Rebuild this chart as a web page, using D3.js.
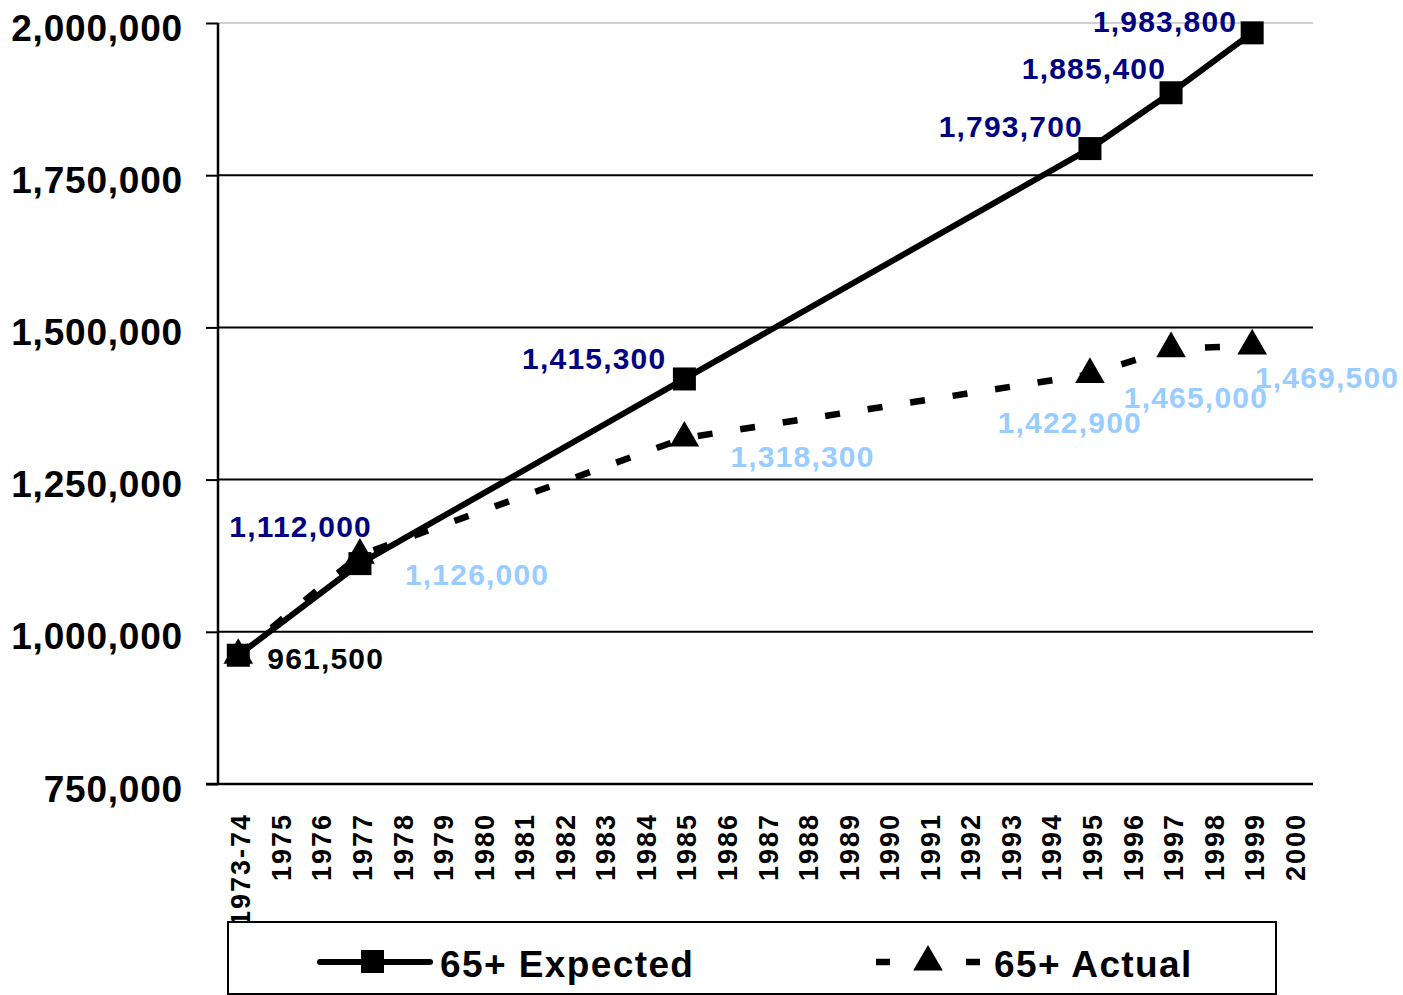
<!DOCTYPE html>
<html>
<head>
<meta charset="utf-8">
<script src="https://cdn.jsdelivr.net/npm/d3@7"></script>
<style>
  body { margin: 0; background: #fff; }
  text { font-family: "Liberation Sans", Arial, sans-serif; font-weight: bold; }
</style>
</head>
<body>
<div id="chart"></div>
<script>
// data
const years = ['1973-74', '1975', '1976', '1977', '1978', '1979', '1980', '1981', '1982',
               '1983', '1984', '1985', '1986', '1987', '1988', '1989', '1990', '1991',
               '1992', '1993', '1994', '1995', '1996', '1997', '1998', '1999', '2000'];
const pointYears = ['1973-74', '1977', '1985', '1995', '1997', '1999'];
const expectedValues = [961500, 1112000, 1415300, 1793700, 1885400, 1983800];
const actualValues = [961500, 1126000, 1318300, 1422900, 1465000, 1469500];
const yTicks = [750000, 1000000, 1250000, 1500000, 1750000, 2000000];
const seriesNames = ['65+ Expected', '65+ Actual'];

// label offsets (layout only), [dx, dy, anchor]
const expectedLabelPos = [[29, 14, 'start'], [12, -27, 'end'], [-18, -10, 'end'],
                          [-7, -12, 'end'], [-5, -14, 'end'], [-15, -1, 'end']];
const actualLabelPos = [null, [45, 30, 'start'], [46, 29, 'start'],
                        [52, 59, 'end'], [97, 59, 'end'], [147, 42, 'end']];

const W = 1403, H = 995;
const plot = { left: 218, right: 1313, top: 23, bottom: 784 };

const svg = d3.select('#chart').append('svg')
  .attr('width', W).attr('height', H);

const x = d3.scaleBand().domain(years).range([plot.left, plot.right]);
const cx = (yr) => x(yr) + x.bandwidth() / 2;
const y = d3.scaleLinear().domain([750000, 2000000]).range([plot.bottom, plot.top]);

// gridlines
svg.append('g').selectAll('line')
  .data(yTicks.filter(d => d > 750000))
  .join('line')
    .attr('x1', plot.left).attr('x2', plot.right)
    .attr('y1', d => y(d)).attr('y2', d => y(d))
    .attr('stroke', d => d === 2000000 ? '#c0c0c0' : '#000')
    .attr('stroke-width', d => d === 2000000 ? 1.5 : 2);

// y axis
const yAxis = svg.append('g')
  .attr('transform', 'translate(' + plot.left + ',0)')
  .call(d3.axisLeft(y).tickValues(yTicks).tickSize(12).tickPadding(23)
    .tickFormat(d3.format(',')));
yAxis.select('.domain').attr('stroke', '#000').attr('stroke-width', 2.5)
  .attr('d', 'M0,' + plot.top + 'V' + plot.bottom);
yAxis.selectAll('.tick line').attr('stroke', '#000').attr('stroke-width', 2);
yAxis.selectAll('.tick text')
  .attr('font-size', 37).attr('fill', '#000').attr('dy', 17).attr('letter-spacing', 0.8)
  .attr('font-family', '"Liberation Sans", Arial, sans-serif').attr('font-weight', 'bold');

// x axis
svg.append('line')
  .attr('x1', plot.left - 12).attr('x2', plot.right)
  .attr('y1', plot.bottom).attr('y2', plot.bottom)
  .attr('stroke', '#000').attr('stroke-width', 2.5);

svg.append('g').selectAll('text')
  .data(years)
  .join('text')
    .attr('transform', d => 'translate(' + (cx(d) + 12) + ',813) rotate(-90)')
    .attr('text-anchor', 'end')
    .attr('font-size', 27)
    .attr('letter-spacing', 2)
    .text(d => d);

// lines
const expected = pointYears.map((yr, i) => ({ yr, v: expectedValues[i] }));
const actual = pointYears.map((yr, i) => ({ yr, v: actualValues[i] }));
const line = d3.line().x(d => cx(d.yr)).y(d => y(d.v));

svg.append('path').datum(actual)
  .attr('d', line).attr('fill', 'none')
  .attr('stroke', '#000').attr('stroke-width', 6.5)
  .attr('stroke-dasharray', '15,28');

svg.append('g').selectAll('path')
  .data(actual)
  .join('path')
    .attr('transform', d => 'translate(' + cx(d.yr) + ',' + y(d.v) + ')')
    .attr('d', d3.symbol(d3.symbolTriangle, 380))
    .attr('fill', '#000');

svg.append('path').datum(expected)
  .attr('d', line).attr('fill', 'none')
  .attr('stroke', '#000').attr('stroke-width', 6);

svg.append('g').selectAll('rect')
  .data(expected)
  .join('rect')
    .attr('x', d => cx(d.yr) - 11.5).attr('y', d => y(d.v) - 11.5)
    .attr('width', 23).attr('height', 23)
    .attr('fill', '#000');

// data labels
svg.append('g').selectAll('text')
  .data(expected)
  .join('text')
    .attr('x', (d, i) => cx(d.yr) + expectedLabelPos[i][0])
    .attr('y', (d, i) => y(d.v) + expectedLabelPos[i][1])
    .attr('text-anchor', (d, i) => expectedLabelPos[i][2])
    .attr('font-size', 30).attr('letter-spacing', 1.2)
    .attr('fill', (d, i) => i === 0 ? '#000' : '#000080')
    .text(d => d3.format(',')(d.v));

svg.append('g').selectAll('text')
  .data(actual.filter((d, i) => actualLabelPos[i]))
  .join('text')
    .attr('x', (d, i) => cx(d.yr) + actualLabelPos[i + 1][0])
    .attr('y', (d, i) => y(d.v) + actualLabelPos[i + 1][1])
    .attr('text-anchor', (d, i) => actualLabelPos[i + 1][2])
    .attr('font-size', 30).attr('letter-spacing', 1.2)
    .attr('fill', '#99ccff')
    .text(d => d3.format(',')(d.v));

// legend
const lg = svg.append('g');
lg.append('rect')
  .attr('x', 228).attr('y', 922).attr('width', 1048).attr('height', 72)
  .attr('fill', '#fff').attr('stroke', '#000').attr('stroke-width', 2);

lg.append('line')
  .attr('x1', 320).attr('x2', 430).attr('y1', 962).attr('y2', 962)
  .attr('stroke', '#000').attr('stroke-width', 6).attr('stroke-linecap', 'round');
lg.append('rect')
  .attr('x', 361).attr('y', 950).attr('width', 23).attr('height', 23).attr('fill', '#000');
lg.append('text')
  .attr('x', 440).attr('y', 977).attr('font-size', 37).attr('letter-spacing', 1.4)
  .text(seriesNames[0]);

lg.append('line')
  .attr('x1', 876).attr('x2', 980).attr('y1', 962).attr('y2', 962)
  .attr('stroke', '#000').attr('stroke-width', 6.5).attr('stroke-dasharray', '14,76');
lg.append('path')
  .attr('transform', 'translate(928,962)')
  .attr('d', d3.symbol(d3.symbolTriangle, 380)).attr('fill', '#000');
lg.append('text')
  .attr('x', 994).attr('y', 977).attr('font-size', 37).attr('letter-spacing', 1.4)
  .text(seriesNames[1]);
</script>
</body>
</html>
